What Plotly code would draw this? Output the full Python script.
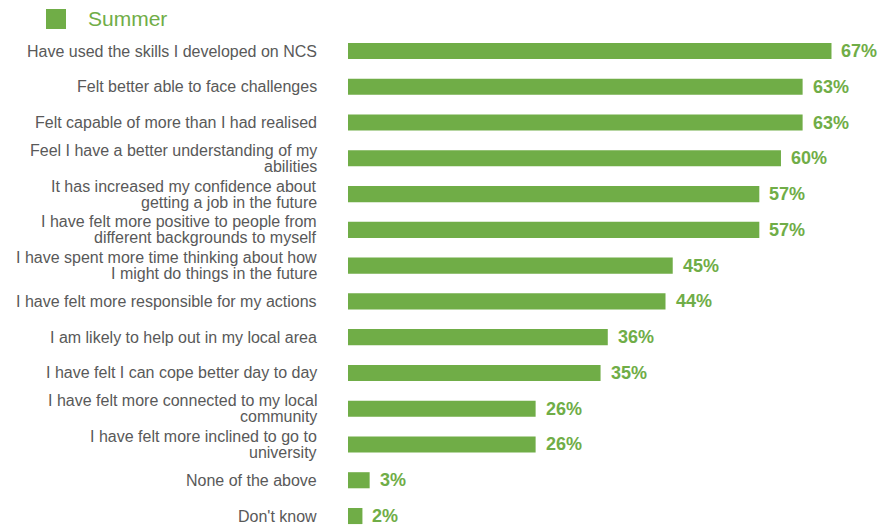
import plotly.graph_objects as go

# Survey statements (line breaks mark where the label wraps)
categories = [
    "Have used the skills I developed on NCS",
    "Felt better able to face challenges",
    "Felt capable of more than I had realised",
    "Feel I have a better understanding of my\nabilities",
    "It has increased my confidence about\ngetting a job in the future",
    "I have felt more positive to people from\ndifferent backgrounds to myself",
    "I have spent more time thinking about how\nI might do things in the future",
    "I have felt more responsible for my actions",
    "I am likely to help out in my local area",
    "I have felt I can cope better day to day",
    "I have felt more connected to my local\ncommunity",
    "I have felt more inclined to go to\nuniversity",
    "None of the above",
    "Don't know",
]
summer = [67, 63, 63, 60, 57, 57, 45, 44, 36, 35, 26, 26, 3, 2]
series_name = "Summer"

GREEN = "#70AD47"
GREY = "#595959"
FONT = "Liberation Sans, Arial, sans-serif"

rows = list(range(len(categories)))

fig = go.Figure()
fig.add_trace(go.Bar(
    x=summer,
    y=rows,
    orientation="h",
    name=series_name,
    marker=dict(color=GREEN, line=dict(width=0)),
    width=0.45,
    hoverinfo="skip",
))

annotations = []
# value labels to the right of each bar
for r, v in zip(rows, summer):
    annotations.append(dict(
        x=v, y=r, xref="x", yref="y", text=f"{v}%",
        showarrow=False, xanchor="left", yanchor="middle", xshift=8,
        font=dict(family=FONT, size=18, color=GREEN, weight="bold"),
    ))

# category labels, one annotation per wrapped line with tight leading
LEAD = 16
for r, cat in zip(rows, categories):
    lines = cat.split("\n")
    n = len(lines)
    for k, line in enumerate(lines):
        annotations.append(dict(
            x=0, y=r, xref="x", yref="y", text=line,
            showarrow=False, xanchor="right", yanchor="middle",
            xshift=-29, yshift=-(k - (n - 1) / 2) * LEAD,
            font=dict(family=FONT, size=16, color=GREY),
        ))

# legend entry
annotations.append(dict(
    x=86, y=19, xref="paper", yref="paper", text=series_name,
    showarrow=False, xanchor="left", yanchor="middle",
    font=dict(family=FONT, size=21, color=GREEN),
))

fig.update_layout(
    width=882, height=528,
    margin=dict(l=348, r=0, t=30, b=0),
    paper_bgcolor="white", plot_bgcolor="white",
    showlegend=False,
    annotations=annotations,
    xaxis=dict(range=[0, 74], visible=False, fixedrange=True),
    yaxis=dict(range=[13.335, -0.587], visible=False, fixedrange=True),
)

# convert pixel-placed legend items to paper coordinates
W, H = 882, 528
pw, ph = W - 348, H - 30
def px_to_paper(xp, yp):
    return (xp - 348) / pw, (H - yp) / ph

ax, ay = px_to_paper(86, 19)
fig.layout.annotations[-1].x = ax
fig.layout.annotations[-1].y = ay
x0, y0 = px_to_paper(46, 9)
x1, y1 = px_to_paper(66, 29)
fig.add_shape(type="rect", xref="paper", yref="paper",
              x0=x0, x1=x1, y0=y1, y1=y0,
              fillcolor=GREEN, line=dict(width=0))

fig.write_html("out.html")
